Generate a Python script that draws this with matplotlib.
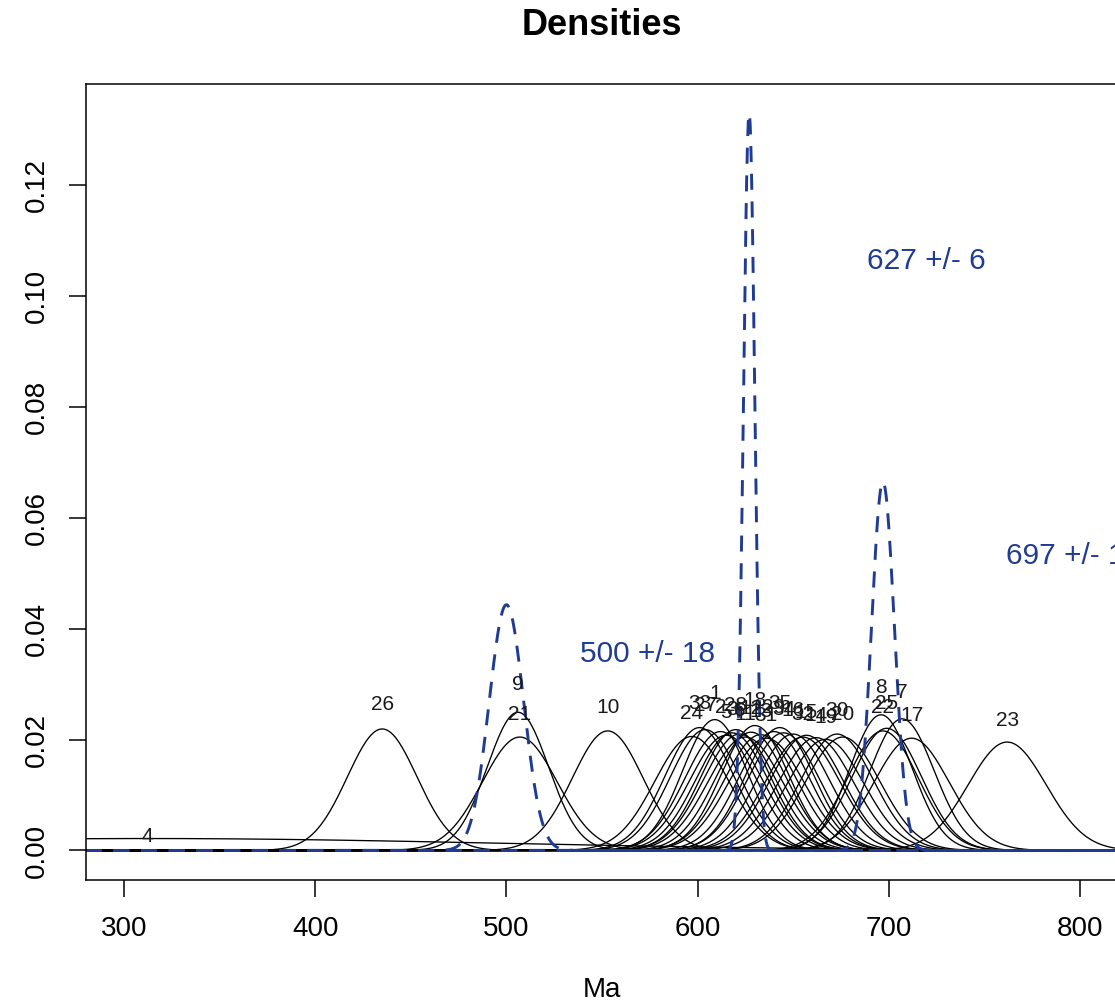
import numpy as np
import matplotlib
matplotlib.use("Agg")
import matplotlib.pyplot as plt

plt.rcParams['font.family'] = ['Liberation Sans', 'DejaVu Sans']

# single grain ages (Ma) and 1-sigma errors
grain_ids = [4, 26, 9, 21, 10,
             24, 33, 27, 1, 2, 5, 3, 28, 6, 11, 12, 18, 13, 31, 29, 35, 34,
             16, 32, 15, 14, 19, 30, 20,
             8, 22, 25, 7, 17, 23]
grain_age = [312, 435, 506, 507, 553,
             597, 601, 604, 609, 612, 615, 618, 620, 622, 625, 628, 630, 633, 636, 640, 643, 645,
             650, 655, 657, 662, 667, 673, 676,
             696, 697, 699, 707, 712, 762]
grain_err = [185, 18.2, 16.0, 19.5, 18.5,
             19.4, 18.0, 18.3, 16.9, 18.6, 19.2, 18.8, 18.3, 19.0, 19.5, 18.7, 17.7, 19.1, 19.7, 18.6, 18.0, 18.8,
             19.0, 19.5, 19.2, 19.6, 19.9, 19.0, 19.5,
             16.3, 18.5, 18.1, 16.8, 19.7, 20.4]

# mixture components: mean and 2-sigma
comp_mean = [500, 627, 697]
comp_err2 = [18, 6, 12]
comp_text_x = [574, 719.5, 797]

blue = '#1f3b94'

def gauss(x, mu, sd):
    return np.exp(-0.5 * ((x - mu) / sd) ** 2) / (sd * np.sqrt(2 * np.pi))

x = np.linspace(250, 850, 3000)

fig = plt.figure(figsize=(11.15, 10.02), dpi=100)
ax = fig.add_axes([0.0771, 0.1218, 0.9256, 0.7944])

top = 0
for gid, mu, sd in zip(grain_ids, grain_age, grain_err):
    y = gauss(x, mu, sd)
    ax.plot(x, y, color='black', lw=0.95)
    pk = 1 / (sd * np.sqrt(2 * np.pi))
    ax.text(mu, 1.2 * pk, str(gid), ha='center', va='center', fontsize=15, color='#1a1a1a')
    top = max(top, y.max())

for mu, e2, tx in zip(comp_mean, comp_err2, comp_text_x):
    sd = e2 / 2
    y = gauss(x, mu, sd)
    ax.plot(x, y, color=blue, lw=2.1, dashes=(5.5, 4))
    pk = y.max()
    ax.text(tx, 0.8 * pk, f"{mu} +/- {e2}", ha='center', va='center', fontsize=21.5, color=blue)
    top = max(top, pk)

ax.set_xlim(280, 820)
ax.set_ylim(-0.04 * top, 1.04 * top)
ax.set_xticks([300, 400, 500, 600, 700, 800])
ax.set_yticks(np.arange(0, 0.121, 0.02))
ax.set_yticklabels([f"{v:.2f}" for v in np.arange(0, 0.121, 0.02)], rotation=90, va='center')
ax.tick_params(axis='both', direction='out', length=12, width=1.1, labelsize=20, pad=14)
for s in ax.spines.values():
    s.set_linewidth(1.1)

fig.text(0.54, 0.975, "Densities", ha='center', va='center', fontsize=26, fontweight='bold')
fig.text(0.54, 0.012, "Ma", ha='center', va='center', fontsize=20)

fig.savefig('out.png', dpi=100)
